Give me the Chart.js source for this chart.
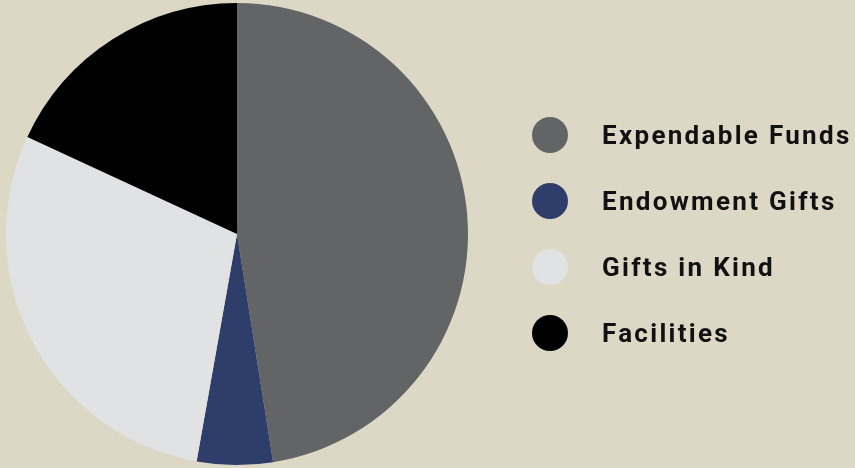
<!DOCTYPE html>
<html>
<head>
<meta charset="utf-8">
<script src="https://cdn.jsdelivr.net/npm/chart.js@4"></script>
<style>
    html, body {
        margin: 0;
        padding: 0;
        background: #ddd8c6;
    }
    #wrap {
        position: relative;
        width: 855px;
        height: 468px;
    }
    #legend {
        position: absolute;
        left: 532px;
        top: 117px;
        margin: 0;
        padding: 0;
        list-style: none;
        font-family: Roboto, "Noto Sans", sans-serif;
        font-weight: bold;
        font-size: 26px;
        letter-spacing: 2.3px;
        color: #111;
        white-space: nowrap;
    }
    #legend li {
        display: flex;
        align-items: center;
        height: 36px;
        margin-bottom: 30px;
    }
    #legend .dot {
        width: 36px;
        height: 36px;
        border-radius: 50%;
        margin-right: 34px;
    }
</style>
</head>
<body>
<div id="wrap">
    <canvas id="chart" width="855" height="468"></canvas>
    <ul id="legend"></ul>
</div>
<script>
const labels = ['Expendable Funds', 'Endowment Gifts', 'Gifts in Kind', 'Facilities'];
const values = [47.5, 5.3, 29.1, 18.1];
const colors = ['#636466', '#2f3d6b', '#e1e2e3', '#000000'];

function buildLegend() {
    const ul = document.getElementById('legend');
    for (let i = 0; i < labels.length; i++) {
        const li = document.createElement('li');
        const dot = document.createElement('span');
        dot.className = 'dot';
        dot.style.backgroundColor = colors[i];
        const txt = document.createElement('span');
        txt.innerText = labels[i];
        li.appendChild(dot);
        li.appendChild(txt);
        ul.appendChild(li);
    }
}

function renderChart() {
    const ctx = document.getElementById('chart');
    new Chart(ctx, {
        type: 'pie',
        data: {
            labels: labels,
            datasets: [{
                data: values,
                backgroundColor: colors,
                borderWidth: 0
            }]
        },
        options: {
            responsive: false,
            animation: false,
            layout: {
                padding: { left: 6, top: 3, bottom: 3, right: 387 }
            },
            plugins: {
                legend: { display: false },
                tooltip: { enabled: false }
            }
        }
    });
}

buildLegend();
renderChart();
</script>
</body>
</html>
